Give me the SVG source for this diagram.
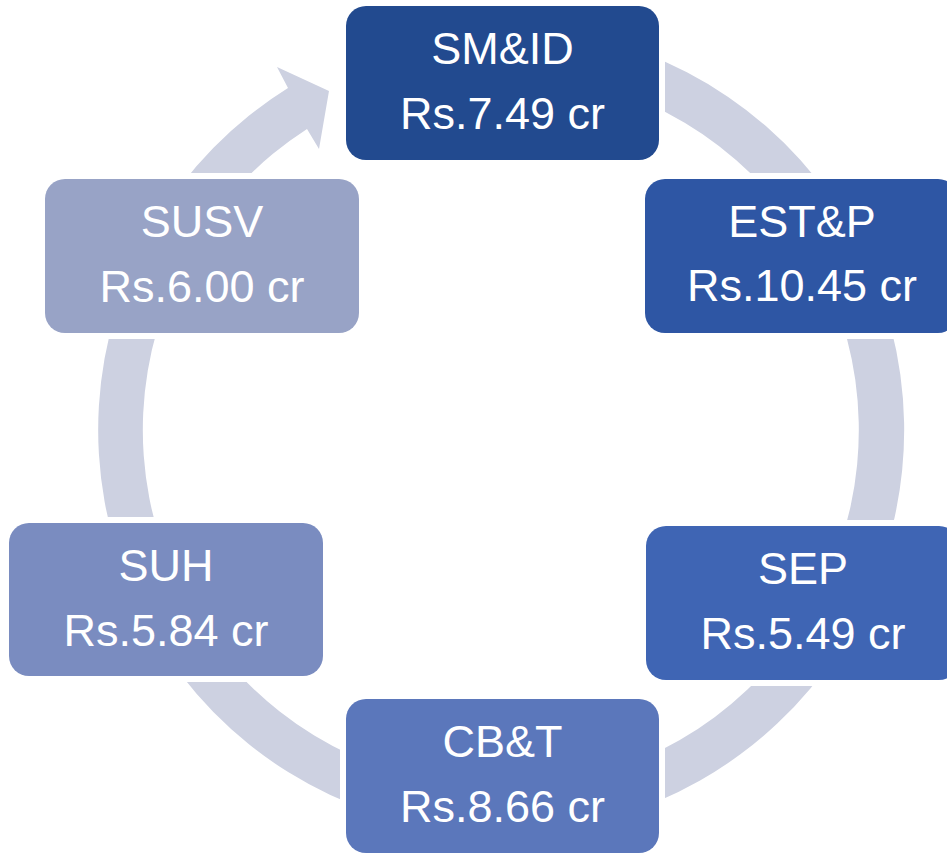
<svg xmlns="http://www.w3.org/2000/svg" width="947" height="854" viewBox="0 0 947 854">
<style>
.gap{fill:#ffffff}
.box{stroke:none}
.t{font-family:"Liberation Sans",Arial,sans-serif;font-size:45px;fill:#ffffff;text-anchor:middle}
.ring{fill:#CDD1E1}
</style>
<rect width="947" height="854" fill="#ffffff"/>
<g id="connectors">
<path class="ring" d="M 502 27 A 403 403 0 1 1 288 88 L 277 67 L 329 91 L 319 149 L 307 129 A 358 358 0 1 0 502 72 Z"/>
</g>
<g id="node-smid">
<rect class="gap" x="340" y="0" width="325" height="166" rx="26"/>
<rect class="box" x="346" y="6" width="313" height="154" rx="20" fill="#224A8F"/>
<text class="t" x="502.5" y="64">SM&amp;ID</text>
<text class="t" x="502.5" y="129">Rs.7.49 cr</text>
</g>
<g id="node-estp">
<rect class="gap" x="639" y="173" width="325" height="166" rx="26"/>
<rect class="box" x="645" y="179" width="313" height="154" rx="20" fill="#2E56A4"/>
<text class="t" x="802" y="237">EST&amp;P</text>
<text class="t" x="802" y="301">Rs.10.45 cr</text>
</g>
<g id="node-sep">
<rect class="gap" x="640" y="520" width="325" height="166" rx="26"/>
<rect class="box" x="646" y="526" width="313" height="154" rx="20" fill="#3F65B4"/>
<text class="t" x="803" y="584">SEP</text>
<text class="t" x="803" y="649">Rs.5.49 cr</text>
</g>
<g id="node-cbt">
<rect class="gap" x="340" y="693" width="325" height="166" rx="26"/>
<rect class="box" x="346" y="699" width="313" height="154" rx="20" fill="#5B77BB"/>
<text class="t" x="502.5" y="757">CB&amp;T</text>
<text class="t" x="502.5" y="822">Rs.8.66 cr</text>
</g>
<g id="node-suh">
<rect class="gap" x="3" y="517" width="326" height="165" rx="26"/>
<rect class="box" x="9" y="523" width="314" height="153" rx="20" fill="#7A8CC0"/>
<text class="t" x="166" y="581">SUH</text>
<text class="t" x="166" y="646">Rs.5.84 cr</text>
</g>
<g id="node-susv">
<rect class="gap" x="39" y="173" width="326" height="166" rx="26"/>
<rect class="box" x="45" y="179" width="314" height="154" rx="20" fill="#98A3C6"/>
<text class="t" x="202" y="237">SUSV</text>
<text class="t" x="202" y="302">Rs.6.00 cr</text>
</g>
</svg>
